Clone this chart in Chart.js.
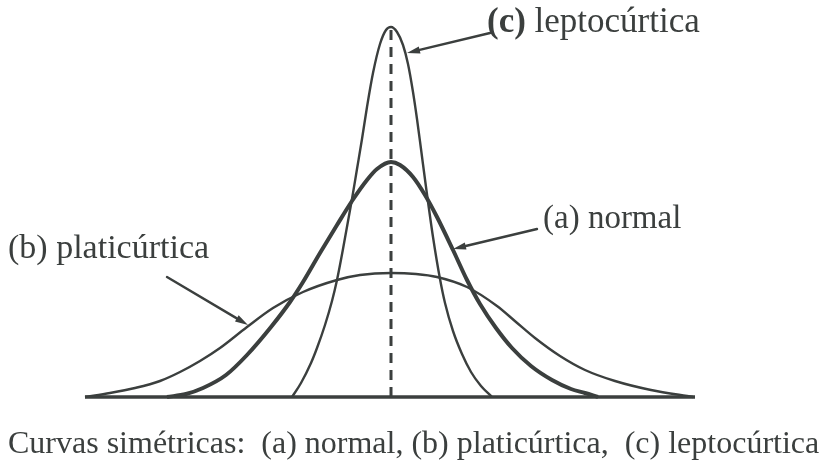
<!DOCTYPE html>
<html>
<head>
<meta charset="utf-8">
<script src="https://cdn.jsdelivr.net/npm/chart.js@4/dist/chart.umd.min.js"></script>
<style>
  html, body { margin: 0; padding: 0; background: #ffffff; }
  #wrap { width: 828px; height: 466px; }
</style>
</head>
<body>
<div id="wrap"><canvas id="c" width="828" height="466"></canvas></div>
<script>
// ---- data (x: distance from the centre, y: height) ----
const normalX = [-2.24,-2.05,-1.88,-1.65,-1.44,-1.20,-1.01,-0.88,-0.71,-0.54,-0.39,-0.24,-0.14,0,0.09,0.22,0.34,0.46,0.62,0.76,0.89,1.05,1.21,1.40,1.61,1.80,1.94,2.07];
const normalY = [0,0.03,0.09,0.22,0.42,0.70,0.95,1.15,1.44,1.72,1.96,2.17,2.28,2.35,2.32,2.20,2.02,1.80,1.47,1.17,0.93,0.69,0.49,0.31,0.17,0.08,0.04,0];

const platyX = [-3.06,-2.81,-2.56,-2.31,-2.11,-1.91,-1.71,-1.44,-1.18,-0.88,-0.54,-0.31,0,0.25,0.46,0.76,1.06,1.25,1.44,1.69,1.94,2.24,2.60,3.02];
const platyY = [0,0.04,0.09,0.16,0.25,0.36,0.49,0.70,0.89,1.05,1.17,1.22,1.24,1.23,1.20,1.10,0.91,0.75,0.59,0.41,0.27,0.16,0.07,0];

const leptoX = [-0.99,-0.90,-0.80,-0.74,-0.66,-0.59,-0.54,-0.48,-0.39,-0.34,-0.29,-0.24,-0.18,-0.11,-0.05,0,0.06,0.12,0.17,0.22,0.26,0.30,0.35,0.42,0.49,0.54,0.62,0.71,0.80,0.90,1.01];
const leptoY = [0,0.14,0.34,0.49,0.72,0.96,1.17,1.48,1.98,2.28,2.58,2.90,3.24,3.53,3.67,3.70,3.65,3.52,3.33,3.05,2.78,2.48,2.10,1.60,1.18,0.94,0.66,0.43,0.25,0.11,0];

const baseX = [-3.06, 3.04];
const baseY = [0, 0];
const axisX = [0, 0];
const axisY = [0, 3.70];

const labels = {
  a: "(a) normal",
  b: "(b) platicúrtica",
  c: ["(c)", " leptocúrtica"],
  caption: "Curvas simétricas:  (a) normal, (b) platicúrtica,  (c) leptocúrtica"
};
// annotation anchors in data units: [labelX, labelBaselineY, arrowStartX, arrowStartY, tipX, tipY]
const noteA = [1.52, 1.69, 1.46, 1.68, 0.62, 1.48];
const noteB = [-3.83, 1.39, -2.24, 1.20, -1.43, 0.72];
const noteC = [0.96, 3.65, 0.99, 3.64, 0.16, 3.44];

const pts = (xs, ys) => xs.map((x, i) => ({ x: x, y: ys[i] }));
const INK = '#3b3f3e';

const annot = {
  id: 'annot',
  afterDatasetsDraw(chart) {
    const ctx = chart.ctx, xs = chart.scales.x, ys = chart.scales.y;
    const px = v => xs.getPixelForValue(v), py = v => ys.getPixelForValue(v);
    ctx.save();
    ctx.fillStyle = INK; ctx.strokeStyle = INK;
    function arrow(x1, y1, x2, y2) {
      const a = Math.atan2(y2 - y1, x2 - x1), L = 13, W = 3.6;
      const bx = x2 - L * Math.cos(a), by = y2 - L * Math.sin(a);
      ctx.lineWidth = 2.4; ctx.lineCap = 'round';
      ctx.beginPath(); ctx.moveTo(x1, y1); ctx.lineTo(bx, by); ctx.stroke();
      ctx.beginPath();
      ctx.moveTo(x2, y2);
      ctx.lineTo(bx + W * Math.sin(a), by - W * Math.cos(a));
      ctx.lineTo(bx - W * Math.sin(a), by + W * Math.cos(a));
      ctx.closePath(); ctx.fill();
    }
    [noteA, noteB, noteC].forEach(n => arrow(px(n[2]), py(n[3]), px(n[4]), py(n[5])));
    ctx.textBaseline = 'alphabetic'; ctx.textAlign = 'left';
    ctx.font = '33px "Liberation Serif"';
    ctx.fillText(labels.a, px(noteA[0]), py(noteA[1]));
    ctx.font = '34px "Liberation Serif"';
    ctx.fillText(labels.b, px(noteB[0]), py(noteB[1]));
    ctx.font = 'bold 35px "Liberation Serif"';
    const cx = px(noteC[0]), cy = py(noteC[1]);
    ctx.fillText(labels.c[0], cx, cy);
    const w = ctx.measureText(labels.c[0]).width;
    ctx.font = '35px "Liberation Serif"';
    ctx.fillText(labels.c[1], cx + w, cy);
    ctx.font = '32px "Liberation Serif"';
    ctx.fillText(labels.caption, 8, 453);
    ctx.restore();
  }
};

new Chart(document.getElementById('c'), {
  type: 'scatter',
  data: {
    datasets: [
      { data: pts(baseX, baseY), showLine: true, borderColor: INK, borderWidth: 3.5, pointRadius: 0, clip: false },
      { data: pts(axisX, axisY), showLine: true, borderColor: INK, borderWidth: 3, borderDash: [10, 7], pointRadius: 0, clip: false },
      { data: pts(platyX, platyY), showLine: true, borderColor: INK, borderWidth: 2.4, pointRadius: 0, cubicInterpolationMode: 'monotone', clip: false },
      { data: pts(leptoX, leptoY), showLine: true, borderColor: INK, borderWidth: 2.4, pointRadius: 0, cubicInterpolationMode: 'monotone', clip: false },
      { data: pts(normalX, normalY), showLine: true, borderColor: INK, borderWidth: 4, pointRadius: 0, cubicInterpolationMode: 'monotone', clip: false }
    ]
  },
  options: {
    responsive: false,
    animation: false,
    events: [],
    layout: { padding: { left: 41, right: 87, top: 17, bottom: 69 } },
    plugins: { legend: { display: false }, tooltip: { enabled: false } },
    scales: {
      x: { type: 'linear', min: -3.5, max: 3.5, display: false },
      y: { type: 'linear', min: 0, max: 3.8, display: false }
    }
  },
  plugins: [annot]
});
</script>
</body>
</html>
